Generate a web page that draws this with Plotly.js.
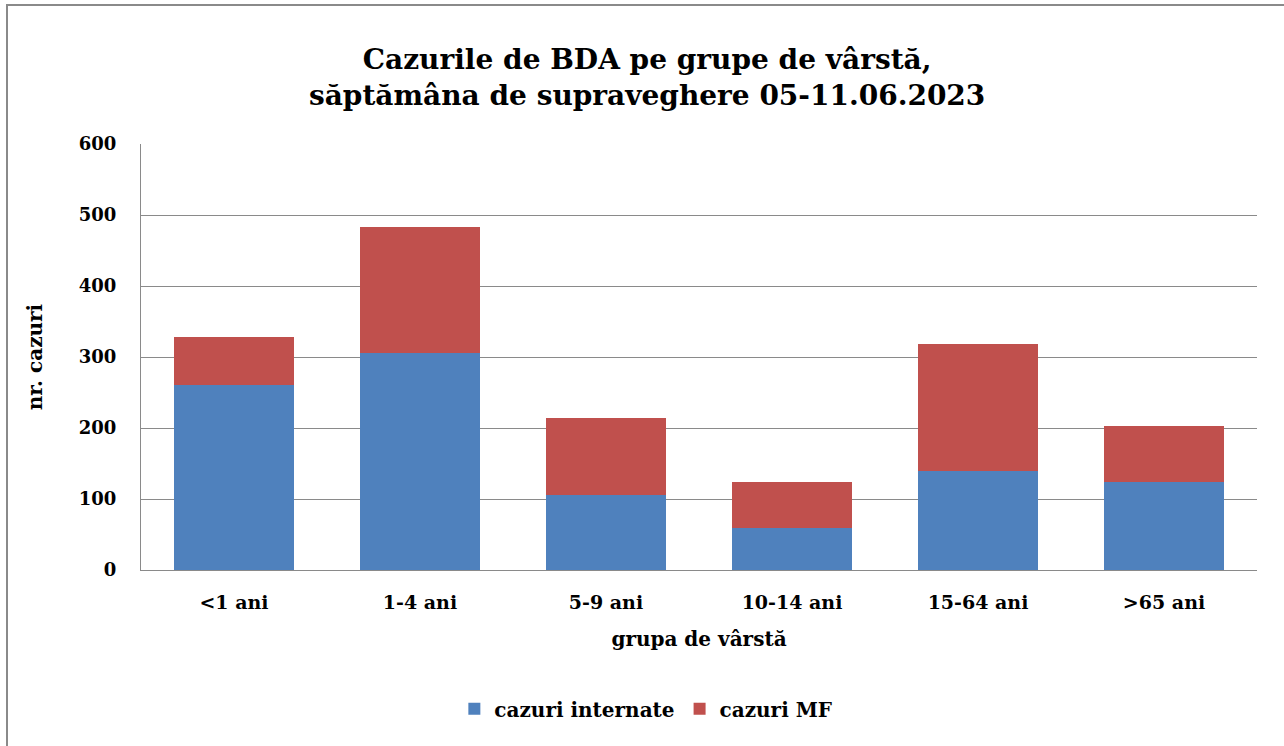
<!DOCTYPE html>
<html>
<head>
<meta charset="utf-8">
<script src="https://cdn.plot.ly/plotly-3.0.1.min.js"></script>
<style>
  html, body { margin: 0; padding: 0; background: #fff; }
  #wrap { position: relative; width: 1284px; height: 746px; overflow: hidden; }
  #frame { position: absolute; left: 6px; top: 4px; width: 1300px; height: 800px; border: 2px solid #8a8a8a; box-sizing: border-box; pointer-events: none; }
  #chart { position: absolute; left: 0; top: 0; width: 1284px; height: 746px; }
</style>
</head>
<body>
<div id="wrap">
  <div id="chart"></div>
  <div id="frame"></div>
</div>
<script>
const categories = ['<1 ani', '1-4 ani', '5-9 ani', '10-14 ani', '15-64 ani', '>65 ani'];
const cazuriInternate = [260, 305, 106, 59, 140, 124];
const cazuriMF = [68, 178, 108, 65, 179, 79];
const yTicks = [0, 100, 200, 300, 400, 500, 600];

const FONT = 'DejaVu Serif, Liberation Serif, serif';

const traces = [
  { type: 'bar', name: 'cazuri internate', x: categories, y: cazuriInternate,
    marker: { color: '#4F81BD', line: { width: 0 } } },
  { type: 'bar', name: 'cazuri MF', x: categories, y: cazuriMF,
    marker: { color: '#C0504D', line: { width: 0 } } }
];

const layout = {
  width: 1284, height: 746,
  barmode: 'stack', bargap: 0.354,
  paper_bgcolor: 'rgba(0,0,0,0)', plot_bgcolor: '#fff',
  margin: { l: 141, r: 27, t: 144, b: 176 },
  font: { family: FONT, color: '#000', size: 18 },
  title: {
    text: '<b>Cazurile de BDA pe grupe de vârstă,<br>săptămâna de supraveghere 05-11.06.2023</b>',
    font: { family: FONT, size: 28, color: '#000' },
    x: 0.504, xref: 'container', xanchor: 'center',
    y: 0.908, yref: 'container', yanchor: 'top'
  },
  xaxis: {
    type: 'category',
    showgrid: false, showline: true, linecolor: '#8a8a8a', linewidth: 1,
    ticks: '', tickfont: { family: FONT, size: 19, color: '#000', weight: 'bold' },
    ticklabelstandoff: 15,
    title: { text: '<b>grupa de vârstă</b>', font: { family: FONT, size: 20, color: '#000' }, standoff: 20 },
    fixedrange: true
  },
  yaxis: {
    range: [0, 600], tickvals: yTicks, ticktext: yTicks.map(String),
    showgrid: true, gridcolor: '#8a8a8a', gridwidth: 1,
    showline: true, linecolor: '#8a8a8a', linewidth: 1,
    zeroline: false, ticks: '',
    tickfont: { family: FONT, size: 18, color: '#000', weight: 'bold' },
    ticklabelstandoff: 20,
    title: { text: '<b>nr. cazuri</b>', font: { family: FONT, size: 20, color: '#000' }, standoff: 30 },
    fixedrange: true
  },
  legend: {
    orientation: 'h', x: 0.503, xanchor: 'center', xref: 'container',
    y: 0.05, yanchor: 'middle', yref: 'container',
    font: { family: FONT, size: 20, color: '#000', weight: 'bold' },
    traceorder: 'normal', itemwidth: 30
  },
  showlegend: true
};

Plotly.newPlot('chart', traces, layout, { displayModeBar: false, staticPlot: true });
</script>
</body>
</html>
